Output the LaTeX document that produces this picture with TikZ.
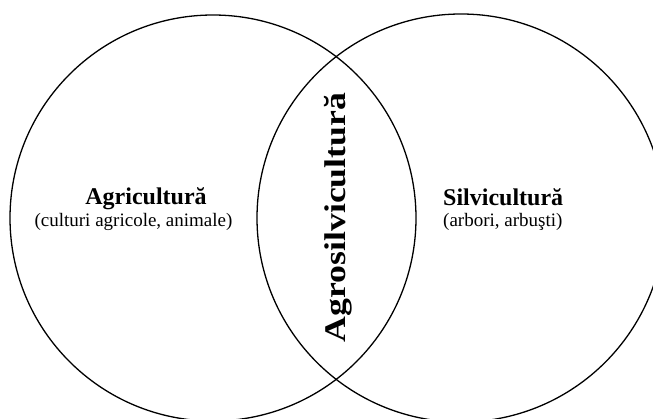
\documentclass[tikz,border=0pt]{standalone}
\usepackage{fontspec}
\setmainfont{Liberation Serif}
\begin{document}
\begin{tikzpicture}[x=1pt,y=-1pt,
  ring/.style={draw=black,line width=1.3pt},
  titletext/.style={inner sep=0pt,font=\bfseries\fontsize{24}{28}\selectfont},
  vertext/.style={inner sep=0pt,font=\bfseries\fontsize{30}{34}\selectfont},
  subtext/.style={inner sep=0pt,font=\fontsize{19}{22}\selectfont}]
\useasboundingbox (0,0) rectangle (653,419);
\begin{scope}
\clip (0,0) rectangle (653,419);
\draw[ring] (213,218) circle[radius=203];
\draw[ring] (461,218) circle[radius=204];
\end{scope}
\node[titletext,anchor=base] (agr) at (146,205) {Agricultură};
\node[subtext,anchor=base] (agrsub) at (133.5,227) {(culturi agricole, animale)};
\node[titletext,anchor=base west] (silv) at (443,206) {Silvicultură};
\node[subtext,anchor=base west] (silvsub) at (443,227) {(arbori, arbuşti)};
\node[vertext,rotate=90,anchor=base] (agro) at (345,217.5) {\scalebox{1.19}[1]{Agrosilvicultură}};
\end{tikzpicture}
\end{document}
